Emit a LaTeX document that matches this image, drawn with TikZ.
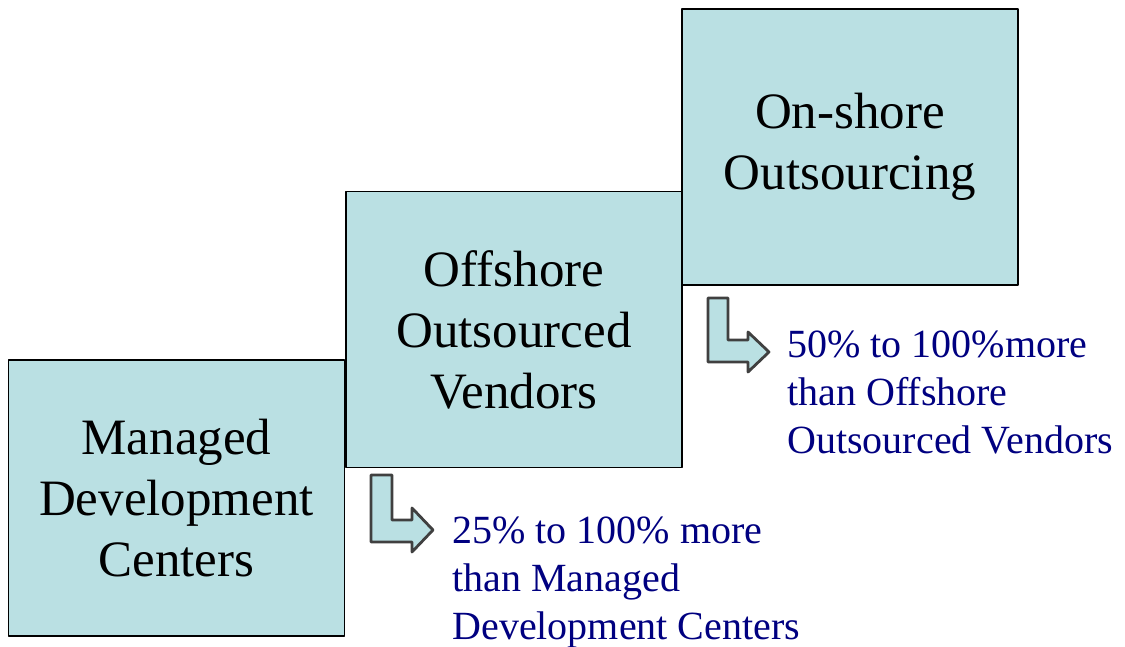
\documentclass[tikz,border=0pt]{standalone}
\usepackage{fontspec}
\setmainfont{Liberation Serif}
\usepackage{xcolor}
\usepackage{tikz}
\definecolor{boxfill}{HTML}{BAE0E3}
\definecolor{notecol}{RGB}{0,0,128}
\definecolor{arrowline}{HTML}{404040}

\begin{document}
\begin{tikzpicture}[x=0.5pt, y=-0.5pt, line join = round, line cap = round,
    stage/.style={draw=black, line width=0.9pt, fill=boxfill, minimum width=168pt,
      minimum height=138pt, inner sep=0pt, align=center,
      font=\fontsize{25.5}{30.5}\selectfont},
    note/.style={text=notecol, inner sep=0pt, align=left, anchor=base west,
      font=\fontsize{20}{24}\selectfont},
    bent/.style={draw=arrowline, line width=1.4pt, fill=boxfill}]

                \useasboundingbox (0,0) rectangle (1125,647);

                \coordinate (c1) at (176.5,498);
                \coordinate (c2) at (514,329.5);
                \coordinate (c3) at (850,147);
                \coordinate (ar1) at (371,475);
                \coordinate (ar2) at (708,298);
                \coordinate (nt1) at (452,639);
                \coordinate (nt2) at (787,453);

                \node[stage] (mdc) at (c1) {Managed\\Development\\Centers};
                \node[stage] (oov) at (c2) {Offshore\\Outsourced\\Vendors};
                \node[stage] (oso) at (c3) {On-shore\\Outsourcing};

                \draw[bent] (ar1) -- ++(21,0) -- ++(0,45) -- ++(20,0) -- ++(0,-12)
                  -- ++(21,22) -- ++(-21,22) -- ++(0,-10) -- ++(-41,0) -- cycle;
                \draw[bent] (ar2) -- ++(20,0) -- ++(0,42) -- ++(20,0) -- ++(0,-8)
                  -- ++(21,20) -- ++(-21,20) -- ++(0,-10) -- ++(-40,0) -- cycle;

                \node[note] (cost1) at (nt1) {25\% to 100\% more\\than Managed\\Development Centers};
                \node[note] (cost2) at (nt2) {50\% to 100\%more\\than Offshore\\Outsourced Vendors};

\end{tikzpicture}
\end{document}
